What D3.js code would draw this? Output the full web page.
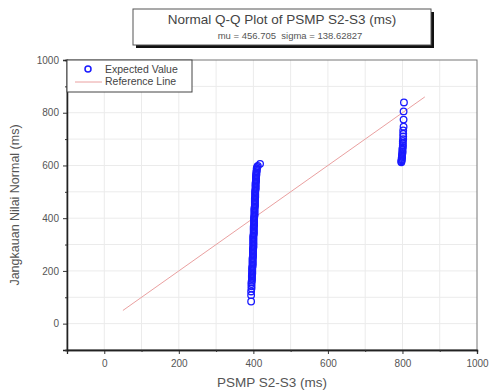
<!DOCTYPE html>
<html lang="en">
<head>
<meta charset="UTF-8">
<title>Normal Q-Q Plot</title>
<script src="https://cdn.jsdelivr.net/npm/d3@7"></script>
<style>
  body { margin: 0; background: #fff; }
  text { font-family: "Liberation Sans", Arial, sans-serif; }
</style>
</head>
<body>
<svg width="489" height="392"></svg>
<script>
// observed PSMP S2-S3 (ms), sorted, and matching expected normal values (ms)
const observedLow = [394,394,394,395,395,395,395,396,396,396,396,396,397,397,397,397,397,397,398,398,
  398,398,398,398,398,399,399,399,399,399,399,399,400,400,400,400,400,400,400,400,400,400,401,401,401,
  401,401,401,401,402,402,402,402,402,402,402,403,403,403,403,403,403,403,404,404,404,404,404,404,404,
  405,405,405,405,405,405,406,406,406,406,406,406,407,407,407,407,407,408,408,408,409,409,409,410,
  412,418];
const expectedLow = [84,108,122,133,142,150,157,163,169,174,179,184,189,194,199,204,209,214,219,224,
  229,234,239,244,249,254,259,264,269,274,279,284,289,294,299,304,309,314,319,324,329,334,339,344,349,
  354,359,364,369,374,379,384,389,394,399,404,409,414,419,424,429,434,439,444,449,454,459,464,469,474,
  479,484,489,494,499,504,509,514,519,524,529,534,539,544,549,554,559,564,569,574,579,584,589,594,
  598,606];
const observedHigh = [797,797,798,798,798,799,799,799,800,800,800,800,801,801,801,801,802,802,802,802,803,803,803,804];
const expectedHigh = [612,616,620,624,628,632,637,642,647,652,658,664,670,677,684,692,700,710,720,733,747,774,805,839];
const refLine = [50, 860];

const title = "Normal Q-Q Plot of PSMP S2-S3 (ms)";
const subtitle = "mu = 456.705\u00a0\u00a0sigma = 138.62827";
const xLabel = "PSMP S2-S3 (ms)";
const yLabel = "Jangkauan Nilai Normal (ms)";
const xTicks = [0, 200, 400, 600, 800, 1000];
const yTicks = [0, 200, 400, 600, 800, 1000];
const legendItems = ["Expected Value", "Reference Line"];

const svg = d3.select("svg");
const mL = 67, mR = 477, mT = 60, mB = 350;

const x = d3.scaleLinear().domain([-100, 1000]).range([mL, mR]);
const y = d3.scaleLinear().domain([-100, 1000]).range([mB, mT]);

// grid
const grid = svg.append("g");
grid.selectAll(".gx").data(d3.range(0, 1000, 100)).join("line")
  .attr("x1", d => x(d)).attr("x2", d => x(d)).attr("y1", mT).attr("y2", mB)
  .attr("stroke", "#ebebeb").attr("stroke-width", 1);
grid.selectAll(".gy").data(d3.range(0, 1000, 100)).join("line")
  .attr("y1", d => y(d)).attr("y2", d => y(d)).attr("x1", mL).attr("x2", mR)
  .attr("stroke", "#ebebeb").attr("stroke-width", 1);

// frame
svg.append("rect").attr("x", mL).attr("y", mT)
  .attr("width", mR - mL).attr("height", mB - mT)
  .attr("fill", "none").attr("stroke", "#777").attr("stroke-width", 1);

// axes
const fmt = d3.format("d");
const xAxis = d3.axisBottom(x).tickValues(xTicks).tickFormat(fmt).tickSize(4).tickPadding(6);
const xMinor = d3.axisBottom(x).tickValues(d3.range(-100, 1001, 200)).tickSize(2).tickFormat("");
const yAxis = d3.axisLeft(y).tickValues(yTicks).tickFormat(fmt).tickSize(4).tickPadding(4);
const yMinor = d3.axisLeft(y).tickValues(d3.range(-100, 1001, 200)).tickSize(2).tickFormat("");

function styleAxis(g) {
  g.select(".domain").attr("stroke", "#222").attr("stroke-width", 1.3);
  g.selectAll(".tick line").attr("stroke", "#333");
  g.selectAll("text").attr("font-size", 10).attr("fill", "#555");
}
svg.append("g").attr("transform", `translate(0,${mB})`).call(xAxis).call(styleAxis);
svg.append("g").attr("transform", `translate(0,${mB})`).call(xMinor).call(styleAxis);
svg.append("g").attr("transform", `translate(${mL},0)`).call(yAxis).call(styleAxis);
svg.append("g").attr("transform", `translate(${mL},0)`).call(yMinor).call(styleAxis);

// reference line
svg.append("line")
  .attr("x1", x(refLine[0])).attr("y1", y(refLine[0]))
  .attr("x2", x(refLine[1])).attr("y2", y(refLine[1]))
  .attr("stroke", "#eaa0a0").attr("stroke-width", 1);

// points
const pts = observedLow.map((d, i) => [d, expectedLow[i]])
  .concat(observedHigh.map((d, i) => [d, expectedHigh[i]]));
svg.append("g").selectAll("circle").data(pts).join("circle")
  .attr("cx", d => x(d[0])).attr("cy", d => y(d[1])).attr("r", 3.3)
  .attr("fill", "none").attr("stroke", "#1a1aff").attr("stroke-width", 1.3);

// legend
const lg = svg.append("g");
lg.append("rect").attr("x", mL).attr("y", mT).attr("width", 125).attr("height", 32)
  .attr("fill", "#fff").attr("stroke", "#444").attr("stroke-width", 1);
lg.append("circle").attr("cx", 88).attr("cy", 69).attr("r", 3)
  .attr("fill", "none").attr("stroke", "#1a1aff").attr("stroke-width", 1.5);
lg.append("line").attr("x1", 75).attr("x2", 102).attr("y1", 82).attr("y2", 82)
  .attr("stroke", "#eaa0a0").attr("stroke-width", 1);
lg.selectAll("text").data(legendItems).join("text")
  .attr("x", 105).attr("y", (d, i) => 73 + i * 12)
  .attr("font-size", 10.5).attr("fill", "#444").text(d => d);

// title box
const tb = svg.append("g");
tb.append("rect").attr("x", 136).attr("y", 12).attr("width", 298).attr("height", 36).attr("fill", "#111");
tb.append("rect").attr("x", 133).attr("y", 9).attr("width", 298).attr("height", 36)
  .attr("fill", "#fff").attr("stroke", "#555").attr("stroke-width", 1);
tb.append("text").attr("x", 282).attr("y", 24).attr("text-anchor", "middle")
  .attr("font-size", 13.5).attr("fill", "#444").text(title);
tb.append("text").attr("x", 290).attr("y", 39).attr("text-anchor", "middle")
  .attr("font-size", 9.5).attr("fill", "#555").text(subtitle);

// axis titles
svg.append("text").attr("x", (mL + mR) / 2).attr("y", 387).attr("text-anchor", "middle")
  .attr("font-size", 13.5).attr("fill", "#555").text(xLabel);
svg.append("text").attr("transform", `translate(19,${(mT + mB) / 2}) rotate(-90)`)
  .attr("text-anchor", "middle").attr("font-size", 12.5).attr("fill", "#555").text(yLabel);
</script>
</body>
</html>
